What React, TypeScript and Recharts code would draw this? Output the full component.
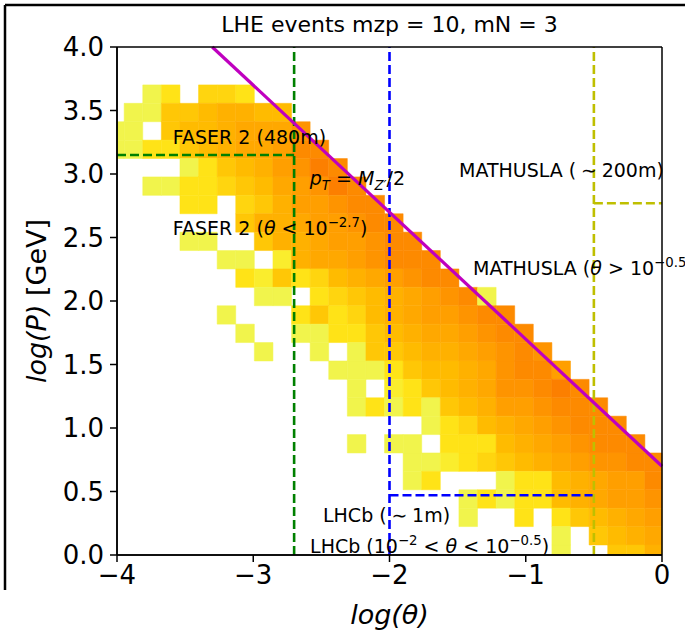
import React from 'react';
import {
  ComposedChart,
  XAxis,
  YAxis,
  ReferenceArea,
  ReferenceLine,
  ReferenceDot,
  Label,
} from 'recharts';

const FONT = '"DejaVu Sans", Verdana, sans-serif';
const W = 685;
const H = 637;

// binning of the 2d histogram (log θ across, log P up)
const thetaBinStart = -4.084;
const thetaBinWidth = 0.1365;
const pBinStart = -0.066;
const pBinHeight = 0.1449;

// colour level of each cell, top row (highest log P) first, 30 θ bins per row; 0 = empty
const histRows = [
  [0, 0, 2, 4, 0, 5, 5, 4, 0, 0, 0, 0, 0, 0, 0, 0, 0, 0, 0, 0, 0, 0, 0, 0, 0, 0, 0, 0, 0, 0],
  [0, 2, 2, 6, 6, 7, 8, 8, 7, 7, 0, 0, 0, 0, 0, 0, 0, 0, 0, 0, 0, 0, 0, 0, 0, 0, 0, 0, 0, 0],
  [2, 2, 0, 6, 7, 7, 8, 9, 9, 9, 11, 0, 0, 0, 0, 0, 0, 0, 0, 0, 0, 0, 0, 0, 0, 0, 0, 0, 0, 0],
  [2, 2, 4, 4, 6, 7, 8, 9, 9, 10, 12, 12, 0, 0, 0, 0, 0, 0, 0, 0, 0, 0, 0, 0, 0, 0, 0, 0, 0, 0],
  [0, 0, 0, 0, 2, 4, 6, 7, 8, 10, 11, 13, 12, 0, 0, 0, 0, 0, 0, 0, 0, 0, 0, 0, 0, 0, 0, 0, 0, 0],
  [0, 0, 2, 2, 4, 4, 5, 6, 7, 9, 10, 11, 13, 12, 0, 0, 0, 0, 0, 0, 0, 0, 0, 0, 0, 0, 0, 0, 0, 0],
  [0, 0, 0, 0, 4, 4, 0, 5, 6, 8, 10, 10, 11, 12, 12, 0, 0, 0, 0, 0, 0, 0, 0, 0, 0, 0, 0, 0, 0, 0],
  [0, 0, 0, 0, 0, 0, 0, 6, 8, 8, 9, 10, 10, 11, 12, 12, 0, 0, 0, 0, 0, 0, 0, 0, 0, 0, 0, 0, 0, 0],
  [0, 0, 0, 0, 2, 2, 0, 0, 6, 8, 8, 9, 10, 10, 11, 12, 12, 0, 0, 0, 0, 0, 0, 0, 0, 0, 0, 0, 0, 0],
  [0, 0, 0, 0, 0, 0, 2, 2, 0, 3, 8, 9, 9, 10, 11, 12, 12, 12, 0, 0, 0, 0, 0, 0, 0, 0, 0, 0, 0, 0],
  [0, 0, 0, 0, 0, 0, 0, 4, 3, 6, 4, 5, 7, 8, 9, 10, 11, 12, 12, 0, 0, 0, 0, 0, 0, 0, 0, 0, 0, 0],
  [0, 0, 0, 0, 0, 0, 0, 0, 2, 2, 0, 4, 5, 6, 7, 8, 9, 10, 11, 12, 2, 0, 0, 0, 0, 0, 0, 0, 0, 0],
  [0, 0, 0, 0, 0, 0, 2, 0, 0, 0, 4, 6, 4, 5, 7, 8, 9, 10, 10, 11, 12, 12, 0, 0, 0, 0, 0, 0, 0, 0],
  [0, 0, 0, 0, 0, 0, 0, 2, 0, 0, 2, 2, 4, 4, 6, 7, 8, 9, 9, 10, 11, 12, 12, 0, 0, 0, 0, 0, 0, 0],
  [0, 0, 0, 0, 0, 0, 0, 0, 2, 0, 0, 2, 0, 2, 6, 6, 7, 8, 8, 9, 10, 11, 12, 11, 0, 0, 0, 0, 0, 0],
  [0, 0, 0, 0, 0, 0, 0, 0, 0, 0, 0, 0, 2, 2, 2, 4, 6, 7, 7, 8, 9, 11, 12, 12, 10, 0, 0, 0, 0, 0],
  [0, 0, 0, 0, 0, 0, 0, 0, 0, 0, 0, 0, 0, 2, 0, 3, 4, 6, 7, 8, 9, 11, 11, 12, 13, 12, 0, 0, 0, 0],
  [0, 0, 0, 0, 0, 0, 0, 0, 0, 0, 0, 0, 0, 2, 4, 2, 4, 2, 6, 7, 8, 10, 10, 11, 12, 12, 12, 0, 0, 0],
  [0, 0, 0, 0, 0, 0, 0, 0, 0, 0, 0, 0, 0, 0, 0, 0, 0, 2, 4, 5, 7, 8, 9, 10, 11, 12, 12, 12, 0, 0],
  [0, 0, 0, 0, 0, 0, 0, 0, 0, 0, 0, 0, 0, 2, 0, 2, 2, 0, 4, 4, 4, 7, 8, 9, 10, 11, 12, 12, 12, 0],
  [0, 0, 0, 0, 0, 0, 0, 0, 0, 0, 0, 0, 0, 0, 0, 0, 2, 2, 3, 4, 5, 6, 7, 8, 9, 10, 11, 11, 12, 12],
  [0, 0, 0, 0, 0, 0, 0, 0, 0, 0, 0, 0, 0, 0, 0, 0, 2, 4, 0, 0, 0, 2, 4, 4, 7, 8, 9, 10, 10, 12],
  [0, 0, 0, 0, 0, 0, 0, 0, 0, 0, 0, 0, 0, 0, 0, 0, 0, 0, 0, 2, 4, 2, 4, 4, 7, 8, 9, 10, 10, 11],
  [0, 0, 0, 0, 0, 0, 0, 0, 0, 0, 0, 0, 0, 0, 0, 0, 0, 0, 0, 2, 0, 0, 4, 0, 4, 6, 7, 8, 9, 10],
  [0, 0, 0, 0, 0, 0, 0, 0, 0, 0, 0, 0, 0, 0, 0, 0, 0, 0, 0, 0, 0, 0, 0, 0, 2, 0, 6, 7, 8, 9],
  [0, 0, 0, 0, 0, 0, 0, 0, 0, 0, 0, 0, 0, 0, 0, 0, 0, 0, 0, 0, 0, 0, 0, 0, 2, 0, 0, 6, 6, 8],
];

const xTicks = [-4, -3, -2, -1, 0];
const yTicks = [0, 0.5, 1, 1.5, 2, 2.5, 3, 3.5, 4];

// p_T = M_Z'/2 line
const ptLine = [
  { x: -3.301, y: 4 },
  { x: 0, y: 0.699 },
];
const faserTheta = -2.7;
const faserP = 3.15;
const lhcbTheta = -2;
const lhcbP = 0.47;
const mathuslaTheta = -0.5;
const mathuslaP = 2.77;

type Part = { t: string; i?: boolean; s?: 'sub' | 'sup' };

const notes: { x: number; y: number; parts: Part[] }[] = [
  { x: -3.59, y: 3.24, parts: [{ t: 'FASER 2 (480m)' }] },
  {
    x: -2.585,
    y: 2.91,
    parts: [
      { t: 'p', i: true },
      { t: 'T', i: true, s: 'sub' },
      { t: ' = ' },
      { t: 'M', i: true },
      { t: 'Z′', i: true, s: 'sub' },
      { t: '/2' },
    ],
  },
  {
    x: -3.59,
    y: 2.52,
    parts: [{ t: 'FASER 2 (' }, { t: 'θ', i: true }, { t: ' < 10' }, { t: '−2.7', s: 'sup' }, { t: ')' }],
  },
  { x: -1.49, y: 2.975, parts: [{ t: 'MATHUSLA (\u2005∼\u2005200m)' }] },
  {
    x: -1.387,
    y: 2.205,
    parts: [{ t: 'MATHUSLA (' }, { t: 'θ', i: true }, { t: ' > 10' }, { t: '−0.5', s: 'sup' }, { t: ')' }],
  },
  { x: -2.488, y: 0.26, parts: [{ t: 'LHCb (\u2005∼\u20051m)' }] },
  {
    x: -2.583,
    y: 0.016,
    parts: [
      { t: 'LHCb (10' },
      { t: '−2', s: 'sup' },
      { t: ' < ' },
      { t: 'θ', i: true },
      { t: ' < 10' },
      { t: '−0.5', s: 'sup' },
      { t: ')' },
    ],
  },
];

// matplotlib "Wistia"
const wistiaStops = [0, 0.25, 0.5, 0.75, 1];
const wistiaR = [0.894, 1, 1, 1, 0.988];
const wistiaG = [1, 0.91, 0.741, 0.627, 0.498];
const wistiaB = [0.478, 0.102, 0, 0, 0];

function wistia(level: number) {
  const t = Math.min(1, 0.12 + ((level - 2) / 11) * 0.88);
  let k = 0;
  while (k < 3 && t > wistiaStops[k + 1]) k++;
  const f = (t - wistiaStops[k]) / (wistiaStops[k + 1] - wistiaStops[k]);
  const mix = (a: number[]) => Math.round((a[k] + (a[k + 1] - a[k]) * f) * 255);
  return `rgb(${mix(wistiaR)},${mix(wistiaG)},${mix(wistiaB)})`;
}

const cells: { x1: number; x2: number; y1: number; y2: number; color: string }[] = [];
histRows.forEach((row, i) => {
  const r = histRows.length - 1 - i;
  row.forEach((v, c) => {
    if (!v) return;
    cells.push({
      x1: Math.max(thetaBinStart + c * thetaBinWidth, -4),
      x2: Math.min(thetaBinStart + (c + 1) * thetaBinWidth, 0),
      y1: Math.max(pBinStart + r * pBinHeight, 0),
      y2: pBinStart + (r + 1) * pBinHeight,
      color: wistia(v),
    });
  });
});

function MathText({ x, y, parts, size }: { x: number; y: number; parts: Part[]; size: number }) {
  let shift = 0;
  return (
    <text x={x} y={y} fontFamily={FONT} fontSize={size} fill="#000" style={{ whiteSpace: 'pre' }}>
      {parts.map((p, k) => {
        const target = p.s === 'sup' ? -0.42 * size : p.s === 'sub' ? 0.22 * size : 0;
        const dy = target - shift;
        shift = target;
        return (
          <tspan key={k} dy={dy} fontSize={p.s ? size * 0.7 : size} fontStyle={p.i ? 'italic' : 'normal'}>
            {p.t}
          </tspan>
        );
      })}
    </text>
  );
}

const XLabel = (props: any) => {
  const { x, y, width } = props.viewBox;
  return (
    <text x={x + width / 2} y={y + 69} textAnchor="middle" fontFamily={FONT} fontSize={27} fontStyle="italic" fill="#000">
      log(θ)
    </text>
  );
};

const YLabel = () => (
  <text
    x={46}
    y={301}
    transform="rotate(-90, 46, 301)"
    textAnchor="middle"
    fontFamily={FONT}
    fontSize={27}
    fill="#000"
    style={{ whiteSpace: 'pre' }}
  >
    <tspan fontStyle="italic">log(P)</tspan>
    <tspan> [GeV]</tspan>
  </text>
);

const tickStyle = { fontSize: 26, fill: '#000', fontFamily: FONT };
const dash = '9 4';

export default function App() {
  return (
    <div style={{ position: 'absolute', left: 0, top: 0, width: W, height: H, background: '#fff', overflow: 'hidden' }}>
      <ComposedChart width={W} height={H} margin={{ top: 47, right: 23, bottom: 0, left: 0 }} data={[]}>
        <XAxis
          type="number"
          dataKey="x"
          domain={[-4, 0]}
          ticks={xTicks}
          allowDataOverflow
          tickFormatter={(v: number) => (v < 0 ? `−${Math.abs(v)}` : '0')}
          tick={tickStyle}
          tickSize={7}
          tickMargin={4}
          axisLine={{ stroke: '#000', strokeWidth: 1.5 }}
          tickLine={{ stroke: '#000', strokeWidth: 1.5 }}
          height={82}
        >
          <Label content={XLabel} />
        </XAxis>
        <YAxis
          type="number"
          dataKey="y"
          domain={[0, 4]}
          ticks={yTicks}
          allowDataOverflow
          tickFormatter={(v: number) => v.toFixed(1)}
          tick={tickStyle}
          tickSize={7}
          tickMargin={6}
          axisLine={{ stroke: '#000', strokeWidth: 1.5 }}
          tickLine={{ stroke: '#000', strokeWidth: 1.5 }}
          width={117}
        >
          <Label content={YLabel} />
        </YAxis>
        {cells.map((c, k) => (
          <ReferenceArea
            key={`c${k}`}
            x1={c.x1}
            x2={c.x2}
            y1={c.y1}
            y2={c.y2}
            fill={c.color}
            fillOpacity={1}
            stroke={c.color}
            strokeWidth={0.5}
            ifOverflow="visible"
          />
        ))}
        <ReferenceLine x={faserTheta} stroke="#008000" strokeWidth={2.6} strokeDasharray={dash} />
        <ReferenceLine
          segment={[
            { x: -4, y: faserP },
            { x: faserTheta, y: faserP },
          ]}
          stroke="#008000"
          strokeWidth={2.6}
          strokeDasharray={dash}
        />
        <ReferenceLine x={lhcbTheta} stroke="#0000ff" strokeWidth={2.6} strokeDasharray={dash} />
        <ReferenceLine
          segment={[
            { x: lhcbTheta, y: lhcbP },
            { x: mathuslaTheta, y: lhcbP },
          ]}
          stroke="#0000ff"
          strokeWidth={2.6}
          strokeDasharray={dash}
        />
        <ReferenceLine x={mathuslaTheta} stroke="#bfbf00" strokeWidth={2.6} strokeDasharray={dash} />
        <ReferenceLine
          segment={[
            { x: mathuslaTheta, y: mathuslaP },
            { x: 0, y: mathuslaP },
          ]}
          stroke="#bfbf00"
          strokeWidth={2.6}
          strokeDasharray={dash}
        />
        <ReferenceLine segment={ptLine} stroke="#bf00bf" strokeWidth={3.2} />
        <ReferenceLine y={4} stroke="#000" strokeWidth={1.5} />
        <ReferenceLine x={0} stroke="#000" strokeWidth={1.5} />
        <ReferenceLine y={0} stroke="#000" strokeWidth={1.5} />
        <ReferenceLine x={-4} stroke="#000" strokeWidth={1.5} />
        {notes.map((n, k) => (
          <ReferenceDot
            key={`n${k}`}
            x={n.x}
            y={n.y}
            r={1}
            ifOverflow="visible"
            shape={(p: any) => <MathText x={p.cx} y={p.cy} parts={n.parts} size={19} />}
          />
        ))}
      </ComposedChart>
      <svg width={W} height={H} style={{ position: 'absolute', left: 0, top: 0, pointerEvents: 'none' }}>
        <text x={389.5} y={32} textAnchor="middle" fontFamily={FONT} fontSize={22} fill="#000">
          LHE events mzp = 10, mN = 3
        </text>
        <line x1={5} y1={5} x2={W} y2={5} stroke="#000" strokeWidth={2.5} />
        <line x1={5} y1={5} x2={5} y2={590} stroke="#000" strokeWidth={2.5} />
      </svg>
    </div>
  );
}
